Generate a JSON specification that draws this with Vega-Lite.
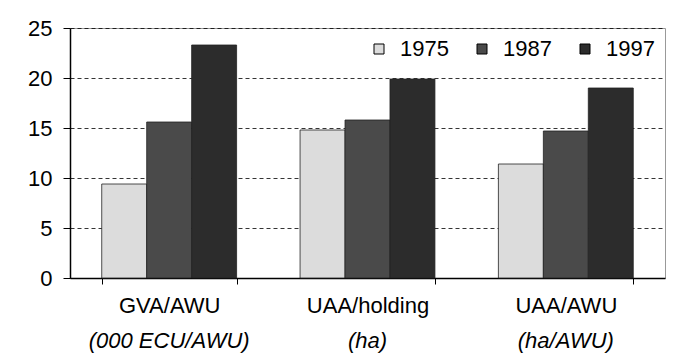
{
  "$schema": "https://vega.github.io/schema/vega-lite/v6.json",
  "width": 595,
  "height": 250,
  "autosize": {"type": "none"},
  "padding": {"left": 70, "top": 28, "right": 23, "bottom": 78},
  "background": "white",
  "config": {"font": "Liberation Sans", "view": {"stroke": "#999", "strokeWidth": 1}},
  "data": {
    "values": [
      {"category": "GVA/AWU", "unit": "(000 ECU/AWU)", "year": "1975", "value": 9.4},
      {"category": "GVA/AWU", "unit": "(000 ECU/AWU)", "year": "1987", "value": 15.6},
      {"category": "GVA/AWU", "unit": "(000 ECU/AWU)", "year": "1997", "value": 23.3},
      {"category": "UAA/holding", "unit": "(ha)", "year": "1975", "value": 14.8},
      {"category": "UAA/holding", "unit": "(ha)", "year": "1987", "value": 15.8},
      {"category": "UAA/holding", "unit": "(ha)", "year": "1997", "value": 19.9},
      {"category": "UAA/AWU", "unit": "(ha/AWU)", "year": "1975", "value": 11.4},
      {"category": "UAA/AWU", "unit": "(ha/AWU)", "year": "1987", "value": 14.7},
      {"category": "UAA/AWU", "unit": "(ha/AWU)", "year": "1997", "value": 19.0}
    ]
  },
  "layer": [
    {
      "mark": {"type": "bar", "stroke": "#222", "strokeWidth": 0.8},
      "encoding": {
        "x": {
          "field": "category", "type": "nominal",
          "sort": ["GVA/AWU", "UAA/holding", "UAA/AWU"],
          "scale": {"paddingInner": 0.32, "paddingOuter": 0.16},
          "axis": {
            "title": null, "labelAngle": 0, "labelFontSize": 22, "labelColor": "black",
            "domainColor": "black", "domainWidth": 1.5, "tickColor": "black",
            "tickBand": "extent", "tickSize": 6, "labelPadding": 11
          }
        },
        "xOffset": {"field": "year", "type": "nominal"},
        "y": {
          "field": "value", "type": "quantitative",
          "scale": {"domain": [0, 25]},
          "axis": {
            "title": null, "values": [0, 5, 10, 15, 20, 25], "labelFontSize": 22, "labelColor": "black",
            "domainColor": "black", "domainWidth": 1.5, "tickColor": "black", "tickSize": 7,
            "labelPadding": 11, "gridColor": "black", "gridDash": [4, 3], "gridWidth": 0.8
          }
        },
        "color": {
          "field": "year", "type": "nominal",
          "scale": {"range": ["#dcdcdc", "#4a4a4a", "#2c2c2c"]},
          "legend": {
            "title": null, "orient": "top-right", "direction": "horizontal", "offset": 10,
            "symbolType": "square", "symbolSize": 100, "symbolStrokeColor": "black", "symbolStrokeWidth": 1,
            "labelFontSize": 22, "labelColor": "black", "labelOffset": 10, "columnPadding": 22
          }
        }
      }
    },
    {
      "mark": {"type": "text", "opacity": 0},
      "encoding": {
        "x": {
          "field": "category", "type": "nominal",
          "sort": ["GVA/AWU", "UAA/holding", "UAA/AWU"],
          "axis": {
            "orient": "bottom", "title": null, "labelAngle": 0, "labelFontSize": 22, "labelFontStyle": "italic",
            "labelColor": "black", "domain": false, "ticks": false, "labelPadding": 52,
            "labelExpr": "datum.value == 'GVA/AWU' ? '(000 ECU/AWU)' : datum.value == 'UAA/holding' ? '(ha)' : '(ha/AWU)'"
          }
        },
        "text": {"value": ""}
      }
    }
  ],
  "resolve": {"axis": {"x": "independent"}}
}
